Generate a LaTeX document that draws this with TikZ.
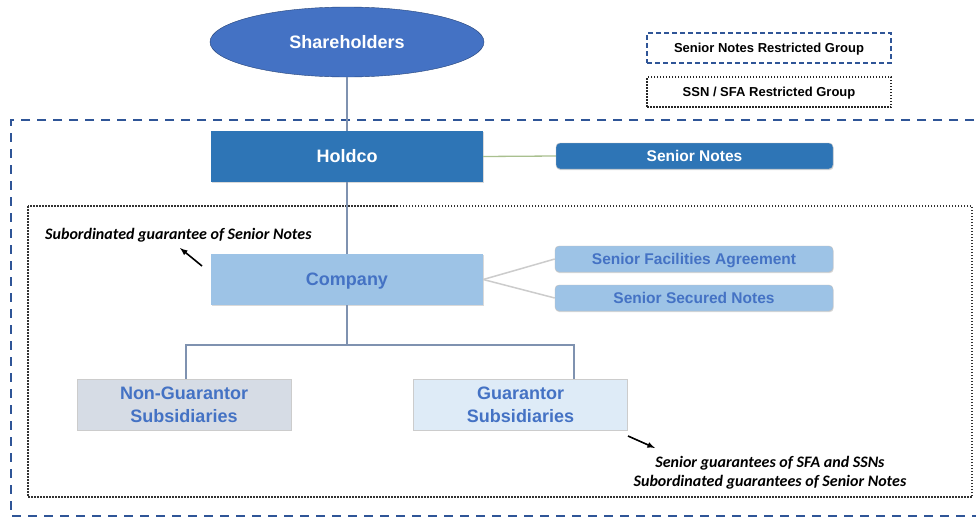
\documentclass[tikz,border=0pt]{standalone}
\usepackage{fontspec}
\setmainfont{Liberation Sans}
\newfontfamily\calib{Carlito}
\usetikzlibrary{shapes.geometric,shadows}
\definecolor{shblue}{HTML}{4472C4}
\definecolor{darkbl}{HTML}{2E75B6}
\definecolor{lightbl}{HTML}{9DC3E6}
\definecolor{dashbl}{HTML}{2F5597}
\definecolor{linebl}{HTML}{7F92B0}
\definecolor{grayfill}{HTML}{D6DCE5}
\definecolor{palefill}{HTML}{DEEBF7}
\definecolor{greenln}{HTML}{A9C08F}
\tikzset{
  x=1pt, y=-1pt,
  oneline/.style={text height=#1, text depth=0pt},
  softshadow/.style={drop shadow={shadow xshift=0.6pt, shadow yshift=-1.2pt, opacity=0.15, fill=black}},
  sqbox/.style={draw=none, minimum width=272pt, minimum height=51pt, inner sep=0pt, oneline=12.9pt, softshadow,
     font=\fontsize{18}{18}\selectfont\bfseries},
  rbox/.style={rounded corners=4pt, draw=black!25, minimum width=278pt, minimum height=26pt, inner sep=0pt, oneline=11.1pt, softshadow,
     font=\fontsize{15.5}{15.5}\selectfont\bfseries},
  subbox/.style={draw=black!20, minimum width=214pt, minimum height=51pt, inner sep=0pt, text=shblue,
     font=\fontsize{18}{23}\selectfont\bfseries, align=center},
  conn/.style={draw=linebl, line width=1.3pt},
  legend/.style={minimum width=244pt, minimum height=30pt, inner sep=0pt, oneline=9.3pt, font=\fontsize{13}{13}\selectfont\bfseries},
  note/.style={font=\calib\fontsize{16}{19.5}\selectfont\itshape\bfseries, align=center, inner sep=0pt},
  pointer/.style={-latex, line width=1.6pt}
}
\begin{document}
\begin{tikzpicture}
\useasboundingbox (0,0) rectangle (976,517);
\fill[white] (0,0) rectangle (976,517);
% group frames
\draw[dashbl, line width=1.3pt, dash pattern=on 9pt off 7pt] (990,120) -- (11,120) -- (11,516) -- (990,516);
\draw[black!80, line width=1.3pt, dash pattern=on 1.5pt off 1.5pt] (28,206) rectangle (972,497);
% legend
\node[legend, draw=dashbl, line width=1.3pt, dash pattern=on 5pt off 3pt] (lg1) at (769,48) {Senior Notes Restricted Group};
\node[legend, draw=black!85, line width=1.3pt, dash pattern=on 1.5pt off 1.5pt] (lg2) at (769,92) {SSN / SFA Restricted Group};
% nodes
\node[ellipse, draw=dashbl!80!black, fill=shblue, minimum width=274pt, minimum height=70pt, inner sep=0pt, oneline=12.9pt,
      text=white, font=\fontsize{18}{18}\selectfont\bfseries] (sh) at (347,42) {Shareholders};
\node[sqbox, fill=darkbl, text=white] (hold) at (347,156.5) {Holdco};
\node[rbox, fill=darkbl, minimum width=277pt, text=white] (sn) at (694.5,156) {Senior Notes};
\node[sqbox, fill=lightbl, text=shblue] (comp) at (347,279.5) {Company};
\node[rbox, fill=lightbl, text=shblue] (sfa) at (694,259) {Senior Facilities Agreement};
\node[rbox, fill=lightbl, text=shblue] (ssn) at (694,298) {Senior Secured Notes};
\node[subbox, fill=grayfill] (ng) at (184,404.5) {Non-Guarantor\\Subsidiaries};
\node[subbox, fill=palefill] (gs) at (520.5,404.5) {Guarantor\\Subsidiaries};
% connectors
\draw[conn] (sh.south) -- (hold.north);
\draw[conn] (hold.south) -- (comp.north);
\draw[greenln, line width=1.3pt] (hold.east) -- (sn.west);
\draw[black!20, line width=1.5pt] (comp.east) -- (sfa.west);
\draw[black!20, line width=1.5pt] (comp.east) -- (ssn.west);
\coordinate (split) at (347,345);
\draw[conn] (comp.south) -- (split);
\draw[conn] (split) -| (186,379);
\draw[conn] (split) -| (574,379);
% notes
\node[note, anchor=west] (n1) at (45,235.5) {Subordinated guarantee of Senior Notes};
\coordinate (a1s) at (202,266);
\coordinate (a1e) at (180,248);
\draw[pointer] (a1s) -- (a1e);
\node[note] (n2) at (770,472.5) {Senior guarantees of SFA and SSNs\\Subordinated guarantees of Senior Notes};
\coordinate (a2s) at (628,436);
\coordinate (a2e) at (655,448);
\draw[pointer] (a2s) -- (a2e);
\end{tikzpicture}
\end{document}
